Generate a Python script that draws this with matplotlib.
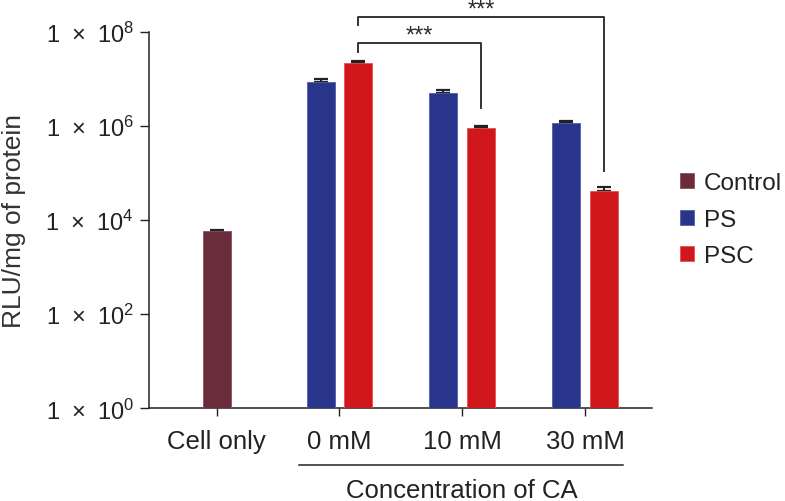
import numpy as np
import matplotlib
matplotlib.use("Agg")
import matplotlib.pyplot as plt
from matplotlib.patches import Patch
from matplotlib.transforms import blended_transform_factory

plt.rcParams["font.family"] = ["Liberation Sans", "DejaVu Sans"]
plt.rcParams["mathtext.default"] = "regular"

# data (log scale)
groups = ["Cell only", "0 mM", "10 mM", "30 mM"]
control_mean = [5.7e3]
control_err = [0.5e3]
ps_mean = [8.6e6, 5.0e6, 1.14e6]
ps_err = [1.2e6, 0.7e6, 0.14e6]
psc_mean = [2.18e7, 8.9e5, 4.17e4]
psc_err = [2.6e6, 1.1e5, 0.9e4]
series_names = ["Control", "PS", "PSC"]
yticks = [1e0, 1e2, 1e4, 1e6, 1e8]
ytick_labels = [r"$1\ \times\ 10^{%d}$" % int(np.log10(t)) for t in yticks]
group_title = "Concentration of CA"
ylabel = "RLU/mg of protein"

colors = {"Control": "#6a2b3a", "PS": "#28358b", "PSC": "#d0181c"}
edges = {"Control": "#8a5060", "PS": "#5060a8", "PSC": "#e85050"}

fig = plt.figure(figsize=(7.85, 5.02), dpi=100)
W, H = 785, 502
ax = fig.add_axes([149 / W, 1 - 409.3 / H, (652 - 149) / W, (409.3 - 32.7) / H])
ax.set_yscale("log")

x = np.arange(len(groups))
bw = 0.228
off = 0.154

err_kw = dict(fmt="none", ecolor="#222222", elinewidth=1.4, capsize=5, capthick=1.6, zorder=2)

ax.bar(x[:1], control_mean, bw, color=colors["Control"], edgecolor=edges["Control"], linewidth=0.6, zorder=3)
ax.errorbar(x[:1], control_mean, yerr=[np.zeros(1), control_err], **err_kw)

ax.bar(x[1:] - off, ps_mean, bw, color=colors["PS"], edgecolor=edges["PS"], linewidth=0.6, zorder=3)
ax.errorbar(x[1:] - off, ps_mean, yerr=[np.zeros(3), ps_err], **err_kw)

ax.bar(x[1:] + off, psc_mean, bw, color=colors["PSC"], edgecolor=edges["PSC"], linewidth=0.6, zorder=3)
ax.errorbar(x[1:] + off, psc_mean, yerr=[np.zeros(3), psc_err], **err_kw)

ax.set_ylim(1, 1e8)
ax.set_xlim(-0.551, 3.546)
ax.set_yticks(yticks)
ax.set_yticklabels(ytick_labels)
ax.yaxis.set_minor_locator(matplotlib.ticker.NullLocator())
ax.set_xticks(x)
ax.set_xticklabels(groups)

for s in ["top", "right"]:
    ax.spines[s].set_visible(False)
for s in ["left", "bottom"]:
    ax.spines[s].set_linewidth(1.1)
    ax.spines[s].set_color("#222222")
ax.tick_params(axis="y", length=6.7, width=1.0, pad=4, labelsize=17, colors="#222222")
ax.tick_params(axis="x", length=5.8, width=1.0, pad=9, labelsize=18.5, colors="#222222")

fig.text(14 / W, 1 - 221 / H, ylabel, rotation=90, ha="center", va="center",
         fontsize=19, color="#333333")

# significance brackets: (x left, x right, line level, left end, right end) in log10 units
psc_top = np.log10(np.array(psc_mean) + np.array(psc_err))
brackets = [
    (x[1] + off, x[2] + off, 7.77, psc_top[0] + 0.19, psc_top[1] + 0.37),
    (x[1] + off, x[3] + off, 8.32, 7.77 + 0.37, psc_top[2] + 0.34),
]
for xl, xr, lev, yl, yr in brackets:
    ax.plot([xl, xl, xr, xr], [10 ** yl, 10 ** lev, 10 ** lev, 10 ** yr],
            color="#333333", lw=1.4, clip_on=False, zorder=4)
    ax.annotate("***", ((xl + xr) / 2, 10 ** lev), xytext=(0, 0.5),
                textcoords="offset points", ha="center", va="baseline",
                fontsize=17, color="#2a2a2a", annotation_clip=False)

# group underline and title
tr = blended_transform_factory(ax.transData, ax.transAxes)
ax.plot([x[1] - 0.327, x[3] + 0.312], [-0.1506, -0.1506], color="#222222", lw=1.1,
        transform=tr, clip_on=False)
ax.text(x[2], -0.216, group_title, transform=tr, ha="center", va="center",
        fontsize=18.5, color="#222222")

handles = [Patch(facecolor=colors[n], edgecolor=edges[n], linewidth=0.6) for n in series_names]
fig.legend(handles, series_names, loc="center left", bbox_to_anchor=(680 / W, 1 - 220.7 / H),
           frameon=False, fontsize=17.5, handlelength=0.57, handleheight=0.57,
           handletextpad=0.4, labelspacing=0.6, borderpad=0, borderaxespad=0,
           labelcolor="#222222")

fig.savefig("out.png", dpi=100)
